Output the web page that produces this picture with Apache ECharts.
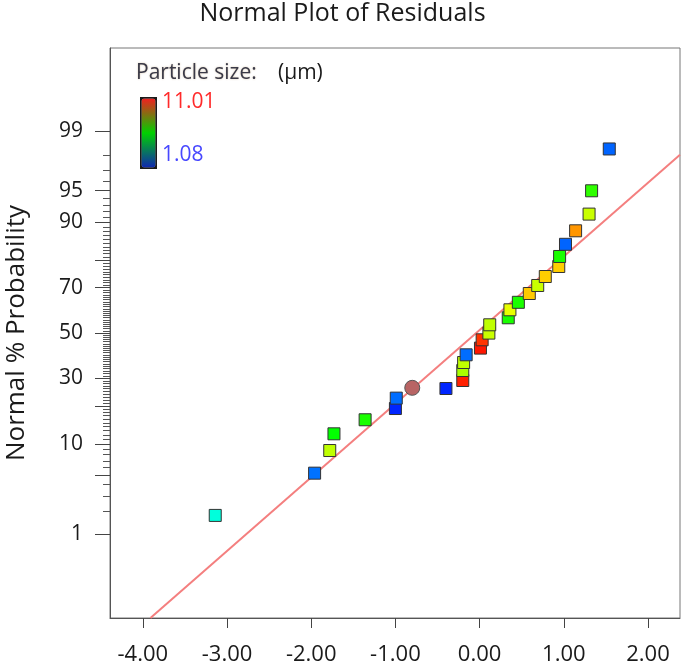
<!DOCTYPE html>
<html><head><meta charset="utf-8">
<script src="https://cdn.jsdelivr.net/npm/echarts@6/dist/echarts.min.js"></script>
<style>html,body{margin:0;padding:0;background:#fff}#c{width:685px;height:669px}</style>
</head><body><div id="c"></div>
<script>
// Residuals (x), normal % probability (y) and particle size in µm (colour)
const residuals = [-3.14,-1.96,-1.78,-1.73,-1.36,-1.00,-0.99,-0.40,-0.20,-0.20,-0.19,-0.16,0.01,0.03,0.11,0.12,0.34,0.36,0.46,0.59,0.69,0.78,0.94,0.95,1.02,1.14,1.30,1.33,1.54];
const probabilities = [1.76,5.28,8.74,12.22,15.82,19.16,22.60,26.08,29.17,33.25,36.67,40.06,43.08,46.87,49.95,53.77,56.97,60.56,63.85,67.58,70.83,74.29,77.87,81.15,84.71,88.10,91.51,94.97,98.32];
const particleSizes = [3.9,2.1,7.9,6.05,6.3,1.3,2.05,1.3,10.7,7.7,7.9,2.05,10.8,10.5,8.0,7.9,6.3,8.3,6.3,9.05,8.0,9.0,9.0,6.3,1.95,9.55,8.0,6.5,1.95];
// highlighted run (circle)
const highlightX = [-0.80];
const highlightP = [26.34];
// fitted normal line end points
const fitLineX = [-3.91, 2.38];
const fitLineP = [0.05, 98.02];
// axes
const xTicks = [-4,-3,-2,-1,0,1,2];
const yLabelValues = [1,10,30,50,70,90,95,99];
const yMajorTicks = [1,5,10,20,30,50,70,80,90,95,99];
const yRangeP = [0.05, 99.95];
const xRange = [-4.39, 2.38];
const colorMin = 1.08, colorMax = 11.01;

function probit(p){
  const a=[-3.969683028665376e+01,2.209460984245205e+02,-2.759285104469687e+02,1.383577518672690e+02,-3.066479806614716e+01,2.506628277459239e+00];
  const b=[-5.447609879822406e+01,1.615858368580409e+02,-1.556989798598866e+02,6.680131188771972e+01,-1.328068155288572e+01];
  const c=[-7.784894002430293e-03,-3.223964580411365e-01,-2.400758277161838e+00,-2.549732539343734e+00,4.374664141464968e+00,2.938163982698783e+00];
  const d=[7.784695709041462e-03,3.224671290700398e-01,2.445134137142996e+00,3.754408661907416e+00];
  const pl=0.02425, ph=1-pl; let q,r;
  if(p<pl){q=Math.sqrt(-2*Math.log(p));return (((((c[0]*q+c[1])*q+c[2])*q+c[3])*q+c[4])*q+c[5])/((((d[0]*q+d[1])*q+d[2])*q+d[3])*q+1);}
  if(p<=ph){q=p-0.5;r=q*q;return (((((a[0]*r+a[1])*r+a[2])*r+a[3])*r+a[4])*r+a[5])*q/(((((b[0]*r+b[1])*r+b[2])*r+b[3])*r+b[4])*r+1);}
  q=Math.sqrt(-2*Math.log(1-p));return -(((((c[0]*q+c[1])*q+c[2])*q+c[3])*q+c[4])*q+c[5])/((((d[0]*q+d[1])*q+d[2])*q+d[3])*q+1);
}
const z = p => probit(p/100);
const yMinorTicks = [];
for (let p = 2; p <= 98; p++) if (yMajorTicks.indexOf(p) < 0) yMinorTicks.push(p);

const FONT = 'Open Sans';
const chart = echarts.init(document.getElementById('c'));
chart.setOption({
  animation: false,
  textStyle: {fontFamily: FONT},
  title: [
    {text:'Normal Plot of Residuals', left:'center', top:1, padding:0, textStyle:{fontFamily:FONT, fontSize:25, fontWeight:'normal', color:'#1a1a1a'}},
    {text:'Particle size:', left:136, top:63, padding:0, textStyle:{fontFamily:FONT, fontSize:21, fontWeight:'normal', color:'#3a3a48', textShadowColor:'rgba(160,120,60,0.45)', textShadowBlur:2}},
    {text:'(μm)', left:278, top:63, padding:0, textStyle:{fontFamily:FONT, fontSize:21, fontWeight:'normal', color:'#1a1a1a'}},
    {text:'11.01', left:162, top:92, padding:0, textStyle:{fontFamily:FONT, fontSize:21, fontWeight:'normal', color:'#ff2a2a'}},
    {text:'1.08', left:162, top:145, padding:0, textStyle:{fontFamily:FONT, fontSize:21, fontWeight:'normal', color:'#4848ff'}}
  ],
  grid: {left:110, right:5, top:48, bottom:51, show:true, borderColor:'#777', borderWidth:1, backgroundColor:'transparent', containLabel:false, outerBoundsMode:'none'},
  xAxis: {
    type:'value', min:xRange[0], max:xRange[1],
    axisLine:{show:true, onZero:false, lineStyle:{color:'#555', width:1}},
    axisTick:{show:true, length:10, customValues:xTicks, lineStyle:{color:'#444'}},
    axisLabel:{customValues:xTicks, formatter:v=>v.toFixed(2), fontSize:22, color:'#1a1a1a', margin:26, fontFamily:FONT},
    splitLine:{show:false}
  },
  yAxis: [
    {
      type:'value', min:z(yRangeP[0]), max:z(yRangeP[1]), position:'left',
      name:'Normal % Probability', nameLocation:'middle', nameGap:80,
      nameTextStyle:{fontSize:26, color:'#1a1a1a', fontFamily:FONT},
      axisLine:{show:true, onZero:false, lineStyle:{color:'#555', width:1}},
      axisTick:{show:true, length:15, customValues:yMajorTicks.map(z), lineStyle:{color:'#444'}},
      axisLabel:{customValues:yLabelValues.map(z), fontSize:21, color:'#1a1a1a', margin:27, fontFamily:FONT,
        formatter:v=>{for(const p of yLabelValues){if(Math.abs(z(p)-v)<1e-7)return String(p);}return '';}},
      splitLine:{show:false}
    },
    {
      type:'value', min:z(yRangeP[0]), max:z(yRangeP[1]), position:'left',
      axisLine:{show:false, onZero:false},
      axisTick:{show:true, length:7, customValues:yMinorTicks.map(z), lineStyle:{color:'#555'}},
      axisLabel:{show:false},
      splitLine:{show:false}
    }
  ],
  visualMap: {
    type:'continuous', min:colorMin, max:colorMax, dimension:2, seriesIndex:0,
    calculable:false, hoverLink:false, orient:'vertical', left:140, top:97,
    itemWidth:14, itemHeight:69, padding:1.5, backgroundColor:'#1a1a1a', borderWidth:0,
    inRange:{color:['#0010ff','#00ffff','#00ff00','#ffff00','#ff0000']},
    controller:{inRange:{color:['#1028b0','#00d000','#f02020']}}
  },
  series: [
    {
      type:'scatter', symbol:'rect', symbolSize:12, z:3,
      itemStyle:{borderColor:'#333', borderWidth:1, opacity:1},
      data: residuals.map((x,i)=>[x, z(probabilities[i]), particleSizes[i]])
    },
    {
      type:'scatter', symbol:'circle', symbolSize:15, z:4,
      itemStyle:{color:'#b86464', borderColor:'#555', borderWidth:1, opacity:1},
      data: highlightX.map((x,i)=>[x, z(highlightP[i])])
    },
    {
      type:'line', symbol:'none', z:2, silent:true, clip:true,
      lineStyle:{color:'#f47f7f', width:2},
      data: fitLineX.map((x,i)=>[x, z(fitLineP[i])])
    }
  ]
});
</script>
</body></html>
